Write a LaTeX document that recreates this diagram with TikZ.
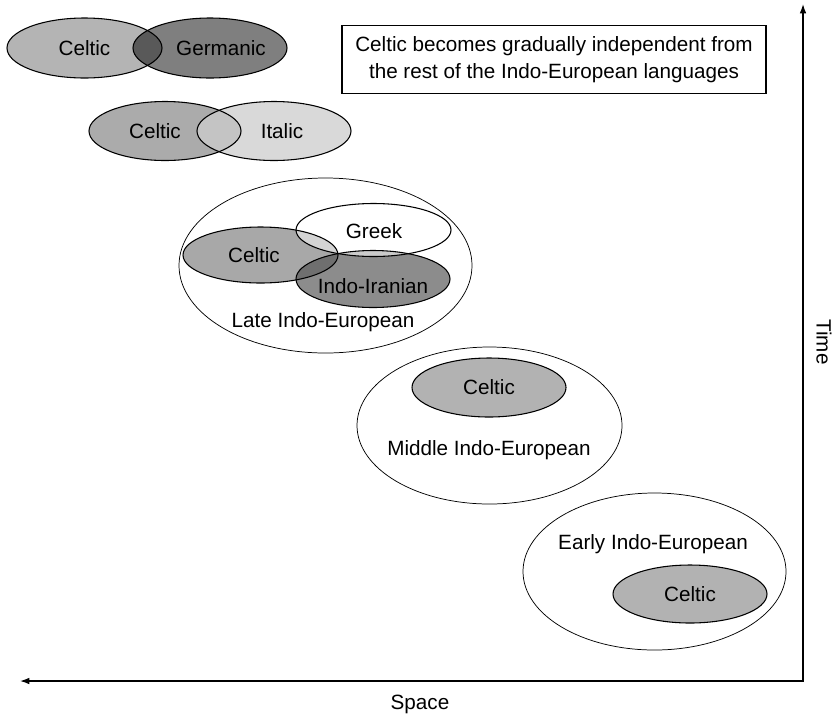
\documentclass[tikz,border=0pt]{standalone}
\usepackage{fontspec}
\setmainfont{Liberation Sans}
\usetikzlibrary{arrows.meta}
\definecolor{cA}{HTML}{B4B4B4}
\definecolor{cG}{HTML}{7F7F7F}
\definecolor{cAG}{HTML}{595959}
\definecolor{cB}{HTML}{ABABAB}
\definecolor{cI}{HTML}{D9D9D9}
\definecolor{cBI}{HTML}{C4C4C4}
\definecolor{cC}{HTML}{A8A8A8}
\definecolor{cII}{HTML}{8C8C8C}
\definecolor{cCII}{HTML}{6F6F6F}
\definecolor{cGC}{HTML}{D4D4D4}
\definecolor{cGII}{HTML}{CBCBCB}
\definecolor{cM}{HTML}{B2B2B2}
\begin{document}
\begin{tikzpicture}[x=0.75pt,y=-0.75pt,
  every node/.style={font=\fontsize{15.5}{20}\selectfont, inner sep=0pt},
  ell/.style={draw=black, line width=0.8pt},
  outer/.style={draw=black, line width=0.55pt},
  axis/.style={line width=1pt, {Latex[length=7pt,width=5pt]}-{Latex[length=7pt,width=5pt]}}]
\useasboundingbox (0,0) rectangle (834,718);
% paths
\def\pCa{(84.5,48) ellipse [x radius=77.5, y radius=30]}
\def\pGe{(210,48) ellipse [x radius=77, y radius=30]}
\def\pCb{(165,131) ellipse [x radius=76, y radius=29.5]}
\def\pIt{(274,131) ellipse [x radius=77, y radius=29.5]}
\def\pCc{(260.5,255) ellipse [x radius=77.5, y radius=28]}
\def\pGr{(373.5,230) ellipse [x radius=77.5, y radius=26.5]}
\def\pII{(373,279) ellipse [x radius=77, y radius=28.5]}
% row 1
\fill[cA] \pCa; \fill[cG] \pGe;
\begin{scope}\clip \pCa; \fill[cAG] \pGe; \end{scope}
\draw[ell] \pCa; \draw[ell] \pGe;
% row 2
\fill[cB] \pCb; \fill[cI] \pIt;
\begin{scope}\clip \pCb; \fill[cBI] \pIt; \end{scope}
\draw[ell] \pCb; \draw[ell] \pIt;
% late IE
\draw[outer] (325.5,265.5) ellipse [x radius=146.5, y radius=87.5];
\fill[cC] \pCc; \fill[cII] \pII;
\begin{scope}\clip \pCc; \fill[cCII] \pII; \end{scope}
\fill[white] \pGr;
\begin{scope}\clip \pGr; \fill[cGC] \pCc; \fill[cGII] \pII; \end{scope}
\draw[ell] \pCc; \draw[ell] \pII; \draw[ell] \pGr;
% middle IE
\draw[outer] (489.5,425.5) ellipse [x radius=132.5, y radius=78.5];
\filldraw[ell, fill=cM] (489,387.5) ellipse [x radius=77, y radius=29.5];
% early IE
\draw[outer] (654.5,571.5) ellipse [x radius=131.5, y radius=78.5];
\filldraw[ell, fill=cM] (690,594) ellipse [x radius=77, y radius=29];
% labels
\node (celtic1) at (84.5,48) {Celtic};
\node (germanic) at (221,48) {Germanic};
\node (celtic2) at (155,131) {Celtic};
\node (italic) at (282,131) {Italic};
\node (greek) at (374,231) {Greek};
\node (celtic3) at (254,255) {Celtic};
\node (indoiranian) at (373,286) {Indo-Iranian};
\node (late) at (323,322) {Late Indo-European};
\node (celtic4) at (489,387.5) {Celtic};
\node (middle) at (489,450) {Middle Indo-European};
\node (early) at (653,544) {Early Indo-European};
\node (celtic5) at (690,594) {Celtic};
\node[draw, line width=0.8pt, align=center, minimum width=318pt, minimum height=51pt] (note) at (554,59.5)
  {Celtic becomes gradually independent from\\the rest of the Indo-European languages};
% axes
\coordinate (ttop) at (803,4);
\coordinate (corner) at (803,681);
\coordinate (sleft) at (20,681);
\draw[axis] (ttop) -- (corner) -- (sleft);
\node[rotate=-90] (time) at (824,342) {Time};
\node (space) at (420,704) {Space};
\end{tikzpicture}
\end{document}
